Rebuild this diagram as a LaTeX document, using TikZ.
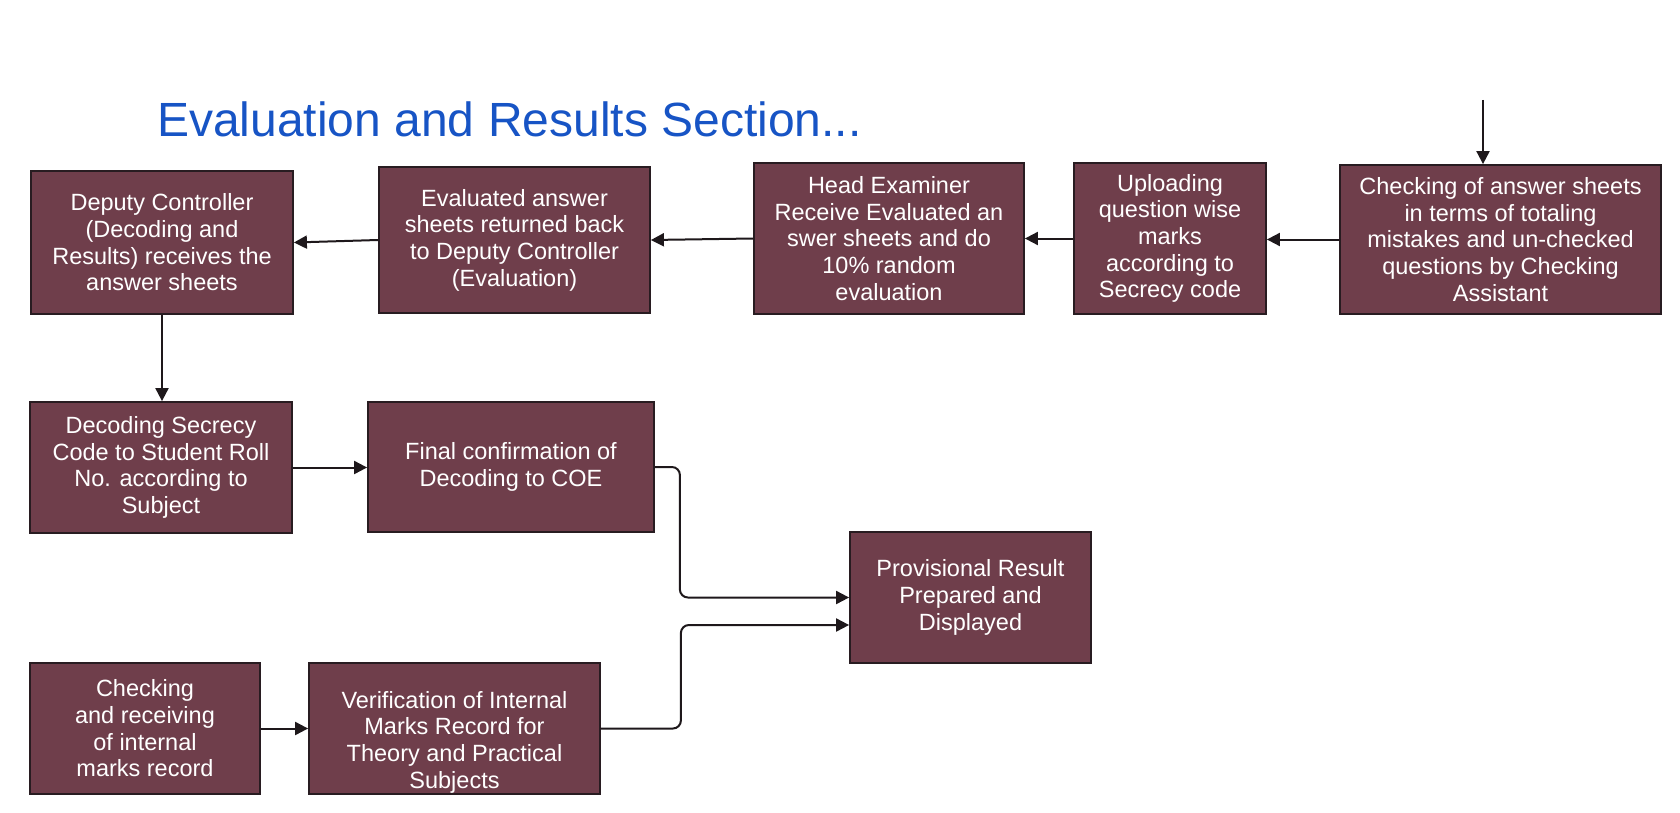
\documentclass[tikz,border=0pt]{standalone}
\usepackage{fontspec}
\setmainfont{Liberation Sans}
\usetikzlibrary{arrows.meta}
\definecolor{boxfill}{RGB}{111,62,75}
\definecolor{boxline}{RGB}{40,28,33}
\definecolor{titleblue}{RGB}{23,84,197}
\definecolor{arrline}{RGB}{30,24,27}
\tikzset{
  procbox/.style={draw=boxline, line width=1.8pt, fill=boxfill, text=white, inner sep=0pt,
    align=center, font=\fontsize{23.5}{26.7}\selectfont},
  boxtext/.style={text=white, inner sep=0pt, align=center, font=\fontsize{23.5}{26.7}\selectfont},
  arr/.style={draw=arrline, line width=2pt, -{Triangle[length=13pt,width=13pt]}},
}
\begin{document}
\begin{tikzpicture}[x=1pt,y=-1pt]
\useasboundingbox (0,0) rectangle (1680,813);
\fill[white] (0,0) rectangle (1680,813);

\node[anchor=base west, text=titleblue, inner sep=0pt, font=\fontsize{48}{57}\selectfont] (title) at (157,137) {Evaluation and Results Section...};

\node[procbox, minimum width=262pt, minimum height=143pt] (A) at (162,242.5)
  {Deputy Controller\\(Decoding and\\Results) receives the\\answer sheets};
\node[procbox, minimum width=271pt, minimum height=146pt] (B) at (514.5,240)
  {Evaluated answer\\sheets returned back\\to Deputy Controller\\(Evaluation)};
\node[procbox, minimum width=270pt, minimum height=151pt] (C) at (889,238.5)
  {Head Examiner\\Receive Evaluated an\\swer sheets and do\\10\% random\\evaluation};
\node[procbox, minimum width=192pt, minimum height=151pt] (D) at (1170,238.5)
  {Uploading\\question wise\\marks\\according to\\Secrecy code};
\node[procbox, minimum width=321pt, minimum height=149pt] (E) at (1500.5,239.5)
  {Checking of answer sheets\\in terms of totaling\\mistakes and un-checked\\questions by Checking\\Assistant};

\node[procbox, minimum width=262pt, minimum height=131pt] (F) at (161,467.5)
  {Decoding Secrecy\\Code to Student Roll\\No. according to\\Subject};
\node[procbox, minimum width=286pt, minimum height=130pt] (G) at (511,467)
  {Final confirmation of\\Decoding to COE};
\node[procbox, minimum width=241pt, minimum height=131pt] (H) at (970.5,597.5)
  {Provisional Result\\Prepared and\\Displayed};
\node[procbox, minimum width=230pt, minimum height=131pt] (I) at (145,728.5)
  {Checking\\and receiving\\of internal\\marks record};
\node[procbox, minimum width=291pt, minimum height=131pt] (J) at (454.5,728.5) {};
\node[boxtext] (Jt) at (454.5,742)
  {Verification of Internal\\Marks Record for\\Theory and Practical\\Subjects};

\coordinate (topin) at (1483,100);
\draw[arr] (topin) -- (topin |- E.north);
\draw[arr] (E.west) -- (D.east |- E.west);
\draw[arr] (D.west) -- (C.east);
\draw[arr] (C.west) -- (B.east);
\draw[arr] (B.west) -- (A.east);
\draw[arr] (A.south) -- (A.south |- F.north);
\draw[arr] (F.east) -- (F.east -| G.west);
\draw[arr, rounded corners=8pt] (G.east) -- ++(25,0) |- (H.west);
\coordinate (h2) at ([yshift=-27.5pt]H.west);
\draw[arr, rounded corners=8pt] (J.east) -- ++(80,0) |- (h2);
\draw[arr] (I.east) -- (J.west);
\end{tikzpicture}
\end{document}
